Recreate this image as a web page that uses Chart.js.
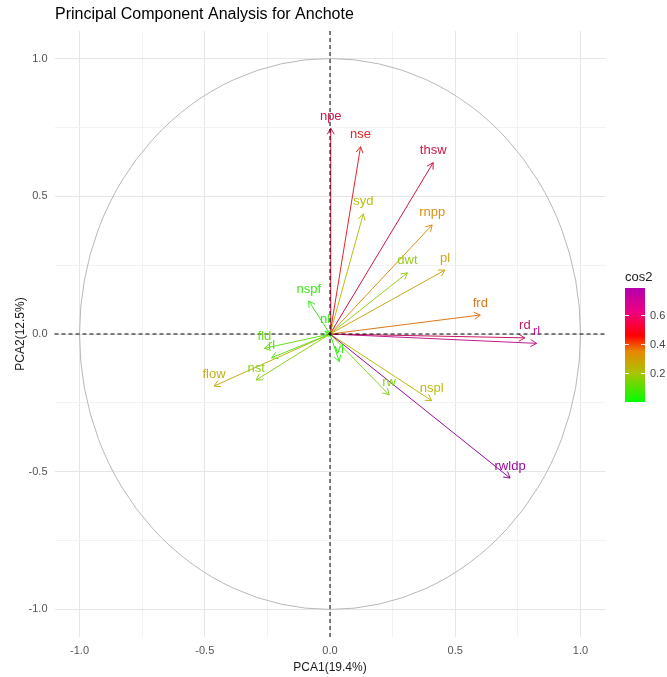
<!DOCTYPE html>
<html>
<head>
<meta charset="utf-8">
<title>Principal Component Analysis for Anchote</title>
<script src="https://cdn.jsdelivr.net/npm/chart.js@4.4.1/dist/chart.umd.min.js"></script>
<style>
  html, body { margin: 0; padding: 0; background: #fff; }
  #wrap { width: 667px; height: 677px; position: relative; }
</style>
</head>
<body>
<div id="wrap"><canvas id="pca"></canvas></div>
<script>
// variable loadings (PC1, PC2)
const varNames = ['npe', 'nse', 'thsw', 'syd', 'rnpp', 'dwt', 'pl', 'frd', 'rd', 'rl',
  'rwldp', 'nspl', 'rw', 'vl', 'nl', 'nspf', 'fld', 'rl', 'nst', 'flow'];
const pc1 = [0.003, 0.122, 0.412, 0.133, 0.408, 0.309, 0.459, 0.600, 0.778, 0.825,
  0.719, 0.406, 0.236, 0.037, -0.020, -0.085, -0.262, -0.233, -0.295, -0.463];
const pc2 = [0.747, 0.680, 0.622, 0.436, 0.396, 0.222, 0.232, 0.069, -0.014, -0.034,
  -0.523, -0.242, -0.221, -0.100, 0.010, 0.120, -0.052, -0.086, -0.167, -0.189];

const tickValues = [-1, -0.5, 0, 0.5, 1];
const tickLabels = ['-1.0', '-0.5', '0.0', '0.5', '1.0'];
const gridValues = [-1, -0.75, -0.5, -0.25, 0, 0.25, 0.5, 0.75, 1];
const legendTicks = [0.2, 0.4, 0.6];

// cos2 colour ramp for arrows and labels (green -> red -> purple)
const cosStops = [
  [0.0, [40, 240, 20]],
  [0.1, [130, 214, 30]],
  [0.2, [178, 196, 20]],
  [0.33, [222, 140, 20]],
  [0.43, [225, 80, 30]],
  [0.5, [225, 20, 40]],
  [0.58, [200, 20, 80]],
  [0.67, [195, 30, 140]],
  [0.8, [150, 10, 160]],
];

// legend bar ramp (brighter, as drawn in the colourbar)
const barStops = [
  [0.0, [0, 255, 0]],
  [0.2, [168, 196, 0]],
  [0.35, [232, 136, 0]],
  [0.46, [255, 0, 0]],
  [0.62, [240, 0, 128]],
  [0.8, [176, 0, 176]],
];

function ramp(stops, v) {
  for (let i = 1; i < stops.length; i++) {
    const [v1, c1] = stops[i];
    const [v0, c0] = stops[i - 1];
    if (v <= v1) {
      const t = Math.max(0, (v - v0) / (v1 - v0));
      const c = c0.map((a, k) => Math.round(a + (c1[k] - a) * t));
      return `rgb(${c.join(',')})`;
    }
  }
  return `rgb(${stops[stops.length - 1][1].join(',')})`;
}

const cos2 = pc1.map((x, i) => x * x + pc2[i] * pc2[i]);
const cosMin = Math.min(...cos2);
const cosMax = Math.max(...cos2);
const colors = cos2.map((v) => ramp(cosStops, v));

const FONT = "'Liberation Sans', Arial, sans-serif";

const datasets = varNames.map((name, i) => ({
  label: name,
  data: [{ x: 0, y: 0 }, { x: pc1[i], y: pc2[i] }],
  showLine: true,
  borderColor: colors[i],
  backgroundColor: colors[i],
  borderWidth: 1,
  pointRadius: 0,
}));

const pcaDecor = {
  id: 'pcaDecor',
  beforeDatasetsDraw(chart) {
    const { ctx } = chart;
    const xs = chart.scales.x, ys = chart.scales.y;
    const cx = xs.getPixelForValue(0), cy = ys.getPixelForValue(0);
    const rx = xs.getPixelForValue(1) - cx, ry = cy - ys.getPixelForValue(1);
    ctx.save();
    ctx.strokeStyle = '#b8b8b8';
    ctx.lineWidth = 1;
    ctx.beginPath();
    ctx.ellipse(cx, cy, rx, ry, 0, 0, Math.PI * 2);
    ctx.stroke();
    ctx.restore();
  },
  afterDatasetsDraw(chart) {
    const { ctx, chartArea: a } = chart;
    const xs = chart.scales.x, ys = chart.scales.y;
    const x0 = xs.getPixelForValue(0), y0 = ys.getPixelForValue(0);
    ctx.save();

    // arrow heads
    chart.data.datasets.forEach((ds, i) => {
      const pts = chart.getDatasetMeta(i).data;
      const p0 = pts[0], p1 = pts[1];
      const ang = Math.atan2(p1.y - p0.y, p1.x - p0.x);
      const len = 7, spread = Math.PI / 6;
      ctx.strokeStyle = ds.borderColor;
      ctx.lineWidth = 1;
      ctx.beginPath();
      ctx.moveTo(p1.x - len * Math.cos(ang - spread), p1.y - len * Math.sin(ang - spread));
      ctx.lineTo(p1.x, p1.y);
      ctx.lineTo(p1.x - len * Math.cos(ang + spread), p1.y - len * Math.sin(ang + spread));
      ctx.stroke();
    });

    // dashed zero lines
    ctx.strokeStyle = '#000';
    ctx.lineWidth = 1;
    ctx.setLineDash([4, 3]);
    ctx.beginPath();
    ctx.moveTo(a.left, y0); ctx.lineTo(a.right, y0);
    ctx.moveTo(x0, a.top); ctx.lineTo(x0, a.bottom);
    ctx.stroke();
    ctx.setLineDash([]);

    // variable labels
    ctx.font = `13px ${FONT}`;
    ctx.textAlign = 'center';
    ctx.textBaseline = 'middle';
    chart.data.datasets.forEach((ds, i) => {
      const p1 = chart.getDatasetMeta(i).data[1];
      ctx.fillStyle = ds.borderColor;
      ctx.fillText(ds.label, p1.x, p1.y - 12);
    });

    // tick labels
    ctx.font = `11px ${FONT}`;
    ctx.fillStyle = '#555';
    ctx.textAlign = 'center';
    tickValues.forEach((v, i) => ctx.fillText(tickLabels[i], xs.getPixelForValue(v), a.bottom + 14));
    ctx.textAlign = 'right';
    tickValues.forEach((v, i) => ctx.fillText(tickLabels[i], a.left - 7, ys.getPixelForValue(v)));

    // axis titles + title
    ctx.fillStyle = '#1a1a1a';
    ctx.font = `12px ${FONT}`;
    ctx.textAlign = 'center';
    ctx.fillText('PCA1(19.4%)', (a.left + a.right) / 2, a.bottom + 31);
    ctx.save();
    ctx.translate(21, (a.top + a.bottom) / 2);
    ctx.rotate(-Math.PI / 2);
    ctx.fillText('PCA2(12.5%)', 0, 0);
    ctx.restore();
    ctx.fillStyle = '#000';
    ctx.font = `16px ${FONT}`;
    ctx.textAlign = 'left';
    ctx.fillText('Principal Component Analysis for Anchote', 55, 15);

    // cos2 colourbar
    const bx = 625, bw = 20, bTop = 288, bBot = 402;
    const vToY = (v) => bBot - (v - cosMin) / (cosMax - cosMin) * (bBot - bTop);
    for (let yy = bTop; yy < bBot; yy++) {
      const v = cosMin + (bBot - yy - 0.5) / (bBot - bTop) * (cosMax - cosMin);
      ctx.fillStyle = ramp(barStops, v);
      ctx.fillRect(bx, yy, bw, 1);
    }
    ctx.strokeStyle = 'rgba(255,255,255,0.9)';
    ctx.lineWidth = 1;
    ctx.font = `11px ${FONT}`;
    ctx.fillStyle = '#444';
    ctx.textAlign = 'left';
    legendTicks.forEach((v) => {
      const ty = Math.round(vToY(v)) + 0.5;
      ctx.beginPath();
      ctx.moveTo(bx, ty); ctx.lineTo(bx + 4, ty);
      ctx.moveTo(bx + bw - 4, ty); ctx.lineTo(bx + bw, ty);
      ctx.stroke();
      ctx.fillText(v.toFixed(1), bx + bw + 5, ty);
    });
    ctx.fillStyle = '#1a1a1a';
    ctx.font = `13px ${FONT}`;
    ctx.fillText('cos2', bx, 277);

    ctx.restore();
  },
};

function gridColor(c) {
  const v = c.tick && c.tick.value;
  return Math.abs(v * 2 - Math.round(v * 2)) < 1e-6 ? '#e6e6e6' : '#f2f2f2';
}

const axisBase = (min, max) => ({
  type: 'linear',
  min, max,
  afterBuildTicks: (s) => { s.ticks = gridValues.map((v) => ({ value: v })); },
  ticks: { display: false },
  grid: { color: gridColor, lineWidth: 1, drawTicks: false },
  border: { display: false },
});

new Chart(document.getElementById('pca'), {
  type: 'scatter',
  data: { datasets },
  options: {
    responsive: true,
    maintainAspectRatio: false,
    devicePixelRatio: 1,
    animation: false,
    layout: { padding: { left: 54.5, right: 61.5, top: 31, bottom: 40 } },
    plugins: { legend: { display: false }, tooltip: { enabled: false } },
    scales: {
      x: { ...axisBase(-1.1, 1.1), afterFit: (s) => { s.height = 0; } },
      y: { ...axisBase(-1.1, 1.1), afterFit: (s) => { s.width = 0; } },
    },
  },
  plugins: [pcaDecor],
});
</script>
</body>
</html>
